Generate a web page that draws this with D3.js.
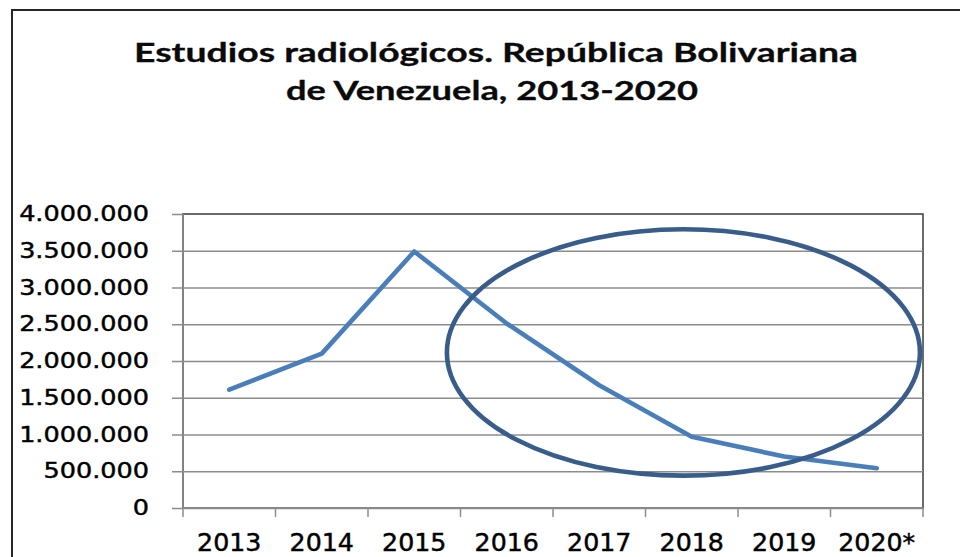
<!DOCTYPE html>
<html>
<head>
<meta charset="utf-8">
<script src="https://cdn.jsdelivr.net/npm/d3@7"></script>
<style>
  body { margin: 0; background: #fff; }
  svg { display: block; }
</style>
</head>
<body>
<div class="container"></div>
<script>
// chart values
const years = ["2013", "2014", "2015", "2016", "2017", "2018", "2019", "2020*"];
const estudios = [1610000, 2100000, 3490000, 2510000, 1670000, 970000, 700000, 540000];
const yTicks = [0, 500000, 1000000, 1500000, 2000000, 2500000, 3000000, 3500000, 4000000];
const titleLines = ["Estudios radiológicos. República Bolivariana", "de Venezuela, 2013-2020"];

// highlight ellipse, in category index / value units
const ringCenter = [5.41, 2116000];
const ringRadius = [2.557, 1676000];

let W = 960, H = 557,
    margin = { top: 214, left: 183 },
    width = 740,
    height = 294;

let svg = d3.select('.container')
            .append('svg')
            .attr('width', W)
            .attr('height', H);

// outer frame of the chart object
svg.append('rect')
   .attr('x', 12).attr('y', 10)
   .attr('width', 990).attr('height', 600)
   .attr('fill', '#fff')
   .attr('stroke', '#262626')
   .attr('stroke-width', 2);

// title
titleLines.forEach((t, i) => {
  svg.append('text')
     .attr('x', [134, 286][i])
     .attr('y', [62, 100][i])
     .style('font-family', 'Lato, "Open Sans", sans-serif')
     .style('font-weight', 'bold')
     .style('font-size', '26.5px')
     .attr('fill', '#0a0a0a')
     .attr('stroke', '#0a0a0a')
     .attr('stroke-width', 0.3)
     .attr('textLength', [724, 412][i])
     .attr('lengthAdjust', 'spacingAndGlyphs')
     .text(t);
});

let xScale = d3.scaleBand()
               .domain(years)
               .range([0, width]);

let xIdx = d3.scaleLinear()
             .domain([0, years.length])
             .range([0, width]);

let yScale = d3.scaleLinear()
               .domain([0, 4000000])
               .range([height, 0]);

let locale = d3.formatLocale({ decimal: ",", thousands: ".", grouping: [3], currency: ["", ""] });
let fmt = locale.format(",d");

let g = svg.append('g')
           .attr('transform', `translate(${margin.left}, ${margin.top})`);

// plot area border (top / right show dark)
g.append('rect')
 .attr('width', width).attr('height', height)
 .attr('fill', 'none')
 .attr('stroke', '#3a3a3a')
 .attr('stroke-width', 1.5);

// y axis with gridlines
let yAxis = d3.axisLeft(yScale)
              .tickValues(yTicks)
              .tickFormat(fmt)
              .tickSizeOuter(0);

let gy = g.append('g').attr('id', 'y-axis').call(yAxis);
gy.select('.domain').remove();
gy.selectAll('.tick line')
  .attr('x1', -11)
  .attr('x2', d => d === 4000000 ? -1 : width)
  .attr('stroke', '#8c8c8c')
  .attr('stroke-width', 1.5);
gy.selectAll('.tick text')
  .attr('x', -34)
  .attr('dy', '6.7px')
  .attr('fill', '#000')
  .attr('stroke', '#000')
  .attr('stroke-width', 0.45)
  .style('font-family', '"DejaVu Sans", Verdana, sans-serif')
  .style('font-size', '22px')
  .each(function () {
    let n = this.getComputedTextLength();
    d3.select(this).attr('textLength', n * 1.16).attr('lengthAdjust', 'spacingAndGlyphs');
  });

// vertical axis line
g.append('line')
 .attr('x1', 0).attr('x2', 0)
 .attr('y1', 0).attr('y2', height)
 .attr('stroke', '#8c8c8c')
 .attr('stroke-width', 1.5);

// x axis: line + ticks between categories
let gx = g.append('g')
          .attr('id', 'x-axis')
          .attr('transform', `translate(0, ${height})`);

gx.append('line')
  .attr('x1', 0).attr('x2', width)
  .attr('stroke', '#8c8c8c')
  .attr('stroke-width', 1.5);

gx.selectAll('line.tick')
  .data(years.concat(['end']))
  .enter()
  .append('line')
  .classed('tick', true)
  .attr('x1', d => d === 'end' ? width : xScale(d))
  .attr('x2', d => d === 'end' ? width : xScale(d))
  .attr('y1', 0)
  .attr('y2', 9)
  .attr('stroke', '#8c8c8c')
  .attr('stroke-width', 1.5);

gx.selectAll('text')
  .data(years)
  .enter()
  .append('text')
  .attr('x', d => xScale(d) + xScale.bandwidth() / 2)
  .attr('y', 43)
  .style('text-anchor', 'middle')
  .style('font-family', '"DejaVu Sans", Verdana, sans-serif')
  .style('font-size', '24.3px')
  .attr('fill', '#000')
  .attr('stroke', '#000')
  .attr('stroke-width', 0.45)
  .text(d => d)
  .each(function () {
    let n = this.getComputedTextLength();
    d3.select(this).attr('textLength', n * 1.04).attr('lengthAdjust', 'spacingAndGlyphs');
  });

// data line
let line = d3.line()
             .x((d, i) => xScale(years[i]) + xScale.bandwidth() / 2)
             .y(d => yScale(d));

g.append('path')
 .datum(estudios)
 .attr('d', line)
 .attr('fill', 'none')
 .attr('stroke', '#4a7ebb')
 .attr('stroke-width', 4.6)
 .attr('stroke-linejoin', 'round')
 .attr('stroke-linecap', 'round');

// hand-drawn highlight ellipse
g.append('ellipse')
 .attr('cx', xIdx(ringCenter[0]))
 .attr('cy', yScale(ringCenter[1]))
 .attr('rx', xIdx(ringRadius[0]) - xIdx(0))
 .attr('ry', yScale(0) - yScale(ringRadius[1]))
 .attr('fill', 'none')
 .attr('stroke', '#385d8a')
 .attr('stroke-width', 4.6);
</script>
</body>
</html>
